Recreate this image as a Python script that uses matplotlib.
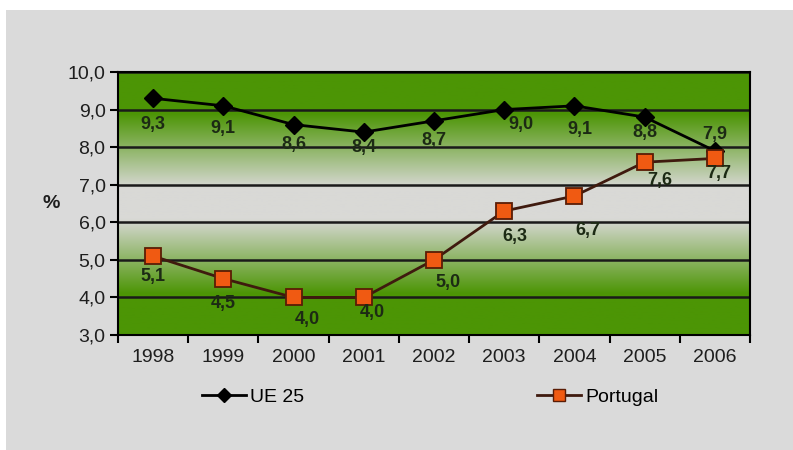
import matplotlib.pyplot as plt
import matplotlib.patches as patches
import numpy as np
from matplotlib.lines import Line2D

years = ["1998", "1999", "2000", "2001", "2002", "2003", "2004", "2005", "2006"]
ue25 = [9.3, 9.1, 8.6, 8.4, 8.7, 9.0, 9.1, 8.8, 7.9]
portugal = [5.1, 4.5, 4.0, 4.0, 5.0, 6.3, 6.7, 7.6, 7.7]
y_ticks = [3.0, 4.0, 5.0, 6.0, 7.0, 8.0, 9.0, 10.0]

# label offsets in points (dx, dy) relative to each marker
ue_offsets = [(0, -19), (0, -16), (0, -14), (0, -11), (0, -14), (12, -11), (4, -17), (0, -11), (0, 12)]
pt_offsets = [(0, -15), (0, -18), (10, -16), (6, -11), (10, -16), (8, -18), (10, -25), (11, -13), (3, -11)]

FONT = "Liberation Sans"
GREEN = np.array([0x4c, 0x95, 0x05]) / 255.0
GREY = np.array([0xd9, 0xd9, 0xd6]) / 255.0
TXT = "#1e1e1e"

fig = plt.figure(figsize=(7.93, 4.5), dpi=100)
fig.patch.set_facecolor("white")
fig.patches.append(patches.Rectangle((6 / 793, 0), 1, 1 - 10 / 450, transform=fig.transFigure,
                                     facecolor="#dadada", edgecolor="none", zorder=0))

ax = fig.add_axes([118 / 793, 1 - 335 / 450, 632 / 793, 263 / 450])
x = np.arange(len(years))

# vertical green -> grey -> green background
yy = np.linspace(3, 10, 400)
t = np.clip((np.abs(yy - 6.5) - 0.4) / 2.0, 0, 1)[:, None]
grad = GREY * (1 - t) + GREEN * t
ax.imshow(grad[:, None, :], extent=[-0.5, 8.5, 3, 10], origin="lower", aspect="auto", zorder=0)

for v in y_ticks:
    ax.axhline(v, color="#1a1a1a", lw=1.8, zorder=1)

ax.plot(x, ue25, color="black", lw=2, marker="D", markersize=9,
        markerfacecolor="black", markeredgecolor="black", zorder=3)
ax.plot(x, portugal, color="#3f1a0e", lw=2, marker="s", markersize=11,
        markerfacecolor="#f05a12", markeredgecolor="#5a1c05", markeredgewidth=1.3, zorder=3)

for i, v in enumerate(ue25):
    ax.annotate(f"{v:.1f}".replace(".", ","), (x[i], v), xytext=ue_offsets[i], textcoords="offset points",
                ha="center", va="center", fontsize=13, fontweight="bold", color="#1c2a14",
                family=FONT, zorder=4)
for i, v in enumerate(portugal):
    ax.annotate(f"{v:.1f}".replace(".", ","), (x[i], v), xytext=pt_offsets[i], textcoords="offset points",
                ha="center", va="center", fontsize=13, fontweight="bold", color="#1c2a14",
                family=FONT, zorder=4)

ax.set_xlim(-0.5, 8.5)
ax.set_ylim(3, 10)
ax.set_yticks(y_ticks)
ax.set_yticklabels([f"{v:.1f}".replace(".", ",") for v in y_ticks], family=FONT, fontsize=14, color=TXT)
ax.set_xticks(x)
ax.set_xticklabels(years, family=FONT, fontsize=14, color=TXT)
ax.set_xticks(np.arange(-0.5, 9, 1), minor=True)
ax.tick_params(axis="x", which="major", length=0, pad=10)
ax.tick_params(axis="x", which="minor", length=6, width=1.5, color="black", direction="out")
ax.tick_params(axis="y", length=6, width=1.5, color="black", pad=3)
for s in ax.spines.values():
    s.set_color("black")
    s.set_linewidth(1.5)
ax.set_zorder(1)

fig.text(51 / 793, 1 - 203 / 450, "%", family=FONT, fontsize=14, fontweight="bold",
         color=TXT, ha="center", va="center")

ue_handle = Line2D([], [], color="black", lw=2, marker="D", markersize=7,
                   markerfacecolor="black", markeredgecolor="black")
pt_handle = Line2D([], [], color="#3f1a0e", lw=2, marker="s", markersize=9,
                   markerfacecolor="#f05a12", markeredgecolor="#5a1c05")
for handle, label, x0 in [(ue_handle, "UE 25", 184), (pt_handle, "Portugal", 519)]:
    fig.legend(handles=[handle], labels=[label], loc="center left",
               bbox_to_anchor=(x0 / 793, 1 - 397 / 450), frameon=False, handlelength=2.3,
               handletextpad=0.2, prop={"family": FONT, "size": 14})

fig.savefig("out.png", dpi=100)
